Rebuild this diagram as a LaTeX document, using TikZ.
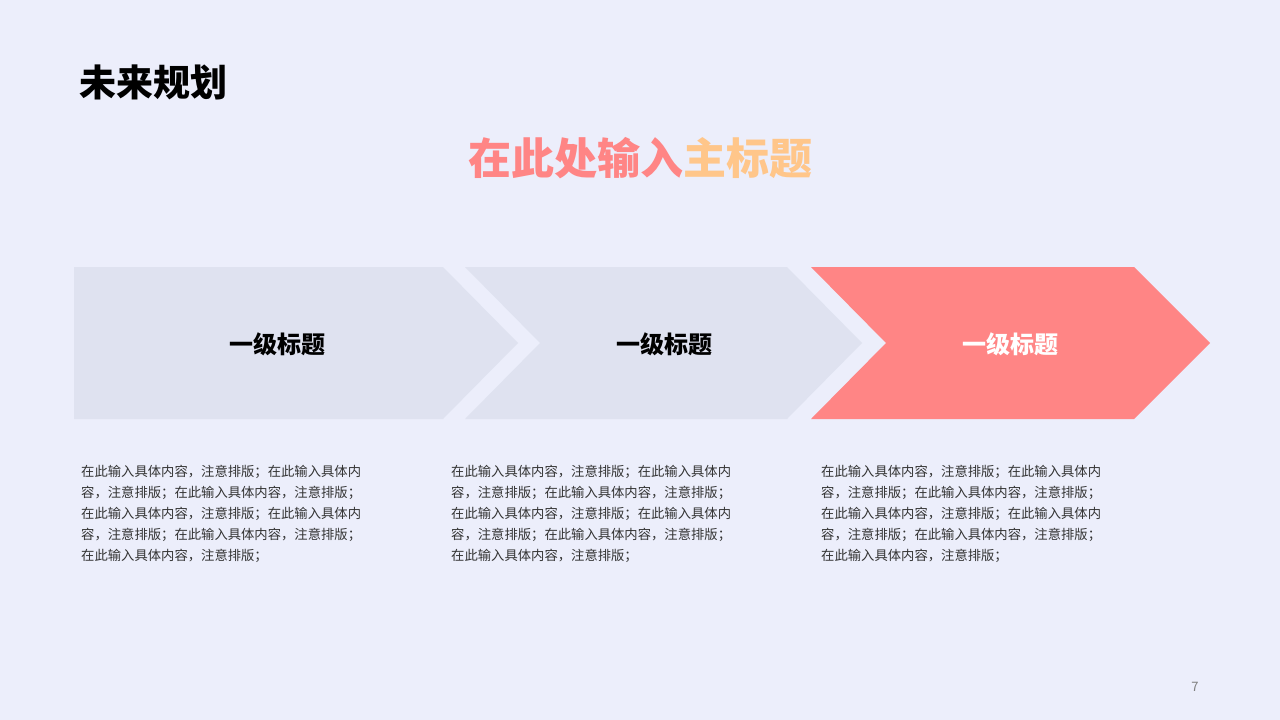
\documentclass[tikz,border=0pt]{standalone}
\usepackage{fontspec}
\setmainfont{Noto Sans CJK SC}
\definecolor{bg}{RGB}{236,238,251}
\definecolor{chevgray}{RGB}{223,226,240}
\definecolor{chevred}{RGB}{255,133,133}
\definecolor{titorange}{RGB}{255,198,138}
\definecolor{bodytext}{RGB}{51,51,51}
\definecolor{pagegray}{RGB}{128,128,128}
\begin{document}
\begin{tikzpicture}[x=1pt,y=-1pt,
  heading/.style={font=\fontsize{24}{28}\selectfont\bfseries, inner sep=0pt},
  bodypara/.style={font=\fontsize{13.33}{21}\selectfont, text=bodytext, align=left, anchor=north west, inner sep=0pt}]
\fill[bg] (0,0) rectangle (1280,720);
\useasboundingbox (0,0) rectangle (1280,720);
% chevrons
\fill[chevgray] (74,267) -- (443,267) -- (518,343) -- (443,419) -- (74,419) -- cycle;
\fill[chevgray] (465,267) -- (787,267) -- (862,343) -- (787,419) -- (465,419) -- (540,343) -- cycle;
\fill[chevred] (811,267) -- (1134,267) -- (1210,343) -- (1134,419) -- (811,419) -- (886,343) -- cycle;
% titles
\node[anchor=west, inner sep=0pt, font=\fontsize{37}{40}\selectfont\bfseries] (pagetitle) at (79,82) {未来规划};
\node[inner sep=0pt, font=\fontsize{43}{46}\selectfont\bfseries] (maintitle) at (640,158) {\textcolor{chevred}{在此处输入}\textcolor{titorange}{主标题}};
% headings
\node[heading, text=black] (h1) at (277,344) {一级标题};
\node[heading, text=black] (h2) at (664,344) {一级标题};
\node[heading, text=white] (h3) at (1010,344) {一级标题};
% body
\node[bodypara] (b1) at (81,464.5) {在此输入具体内容，注意排版；在此输入具体内\\容，注意排版；在此输入具体内容，注意排版；\\在此输入具体内容，注意排版；在此输入具体内\\容，注意排版；在此输入具体内容，注意排版；\\在此输入具体内容，注意排版；};
\node[bodypara] (b2) at (451,464.5) {在此输入具体内容，注意排版；在此输入具体内\\容，注意排版；在此输入具体内容，注意排版；\\在此输入具体内容，注意排版；在此输入具体内\\容，注意排版；在此输入具体内容，注意排版；\\在此输入具体内容，注意排版；};
\node[bodypara] (b3) at (821,464.5) {在此输入具体内容，注意排版；在此输入具体内\\容，注意排版；在此输入具体内容，注意排版；\\在此输入具体内容，注意排版；在此输入具体内\\容，注意排版；在此输入具体内容，注意排版；\\在此输入具体内容，注意排版；};
% page number
\node[inner sep=0pt, text=pagegray, font=\fontsize{13}{15}\selectfont] (pgnum) at (1195,687) {7};
\end{tikzpicture}
\end{document}
